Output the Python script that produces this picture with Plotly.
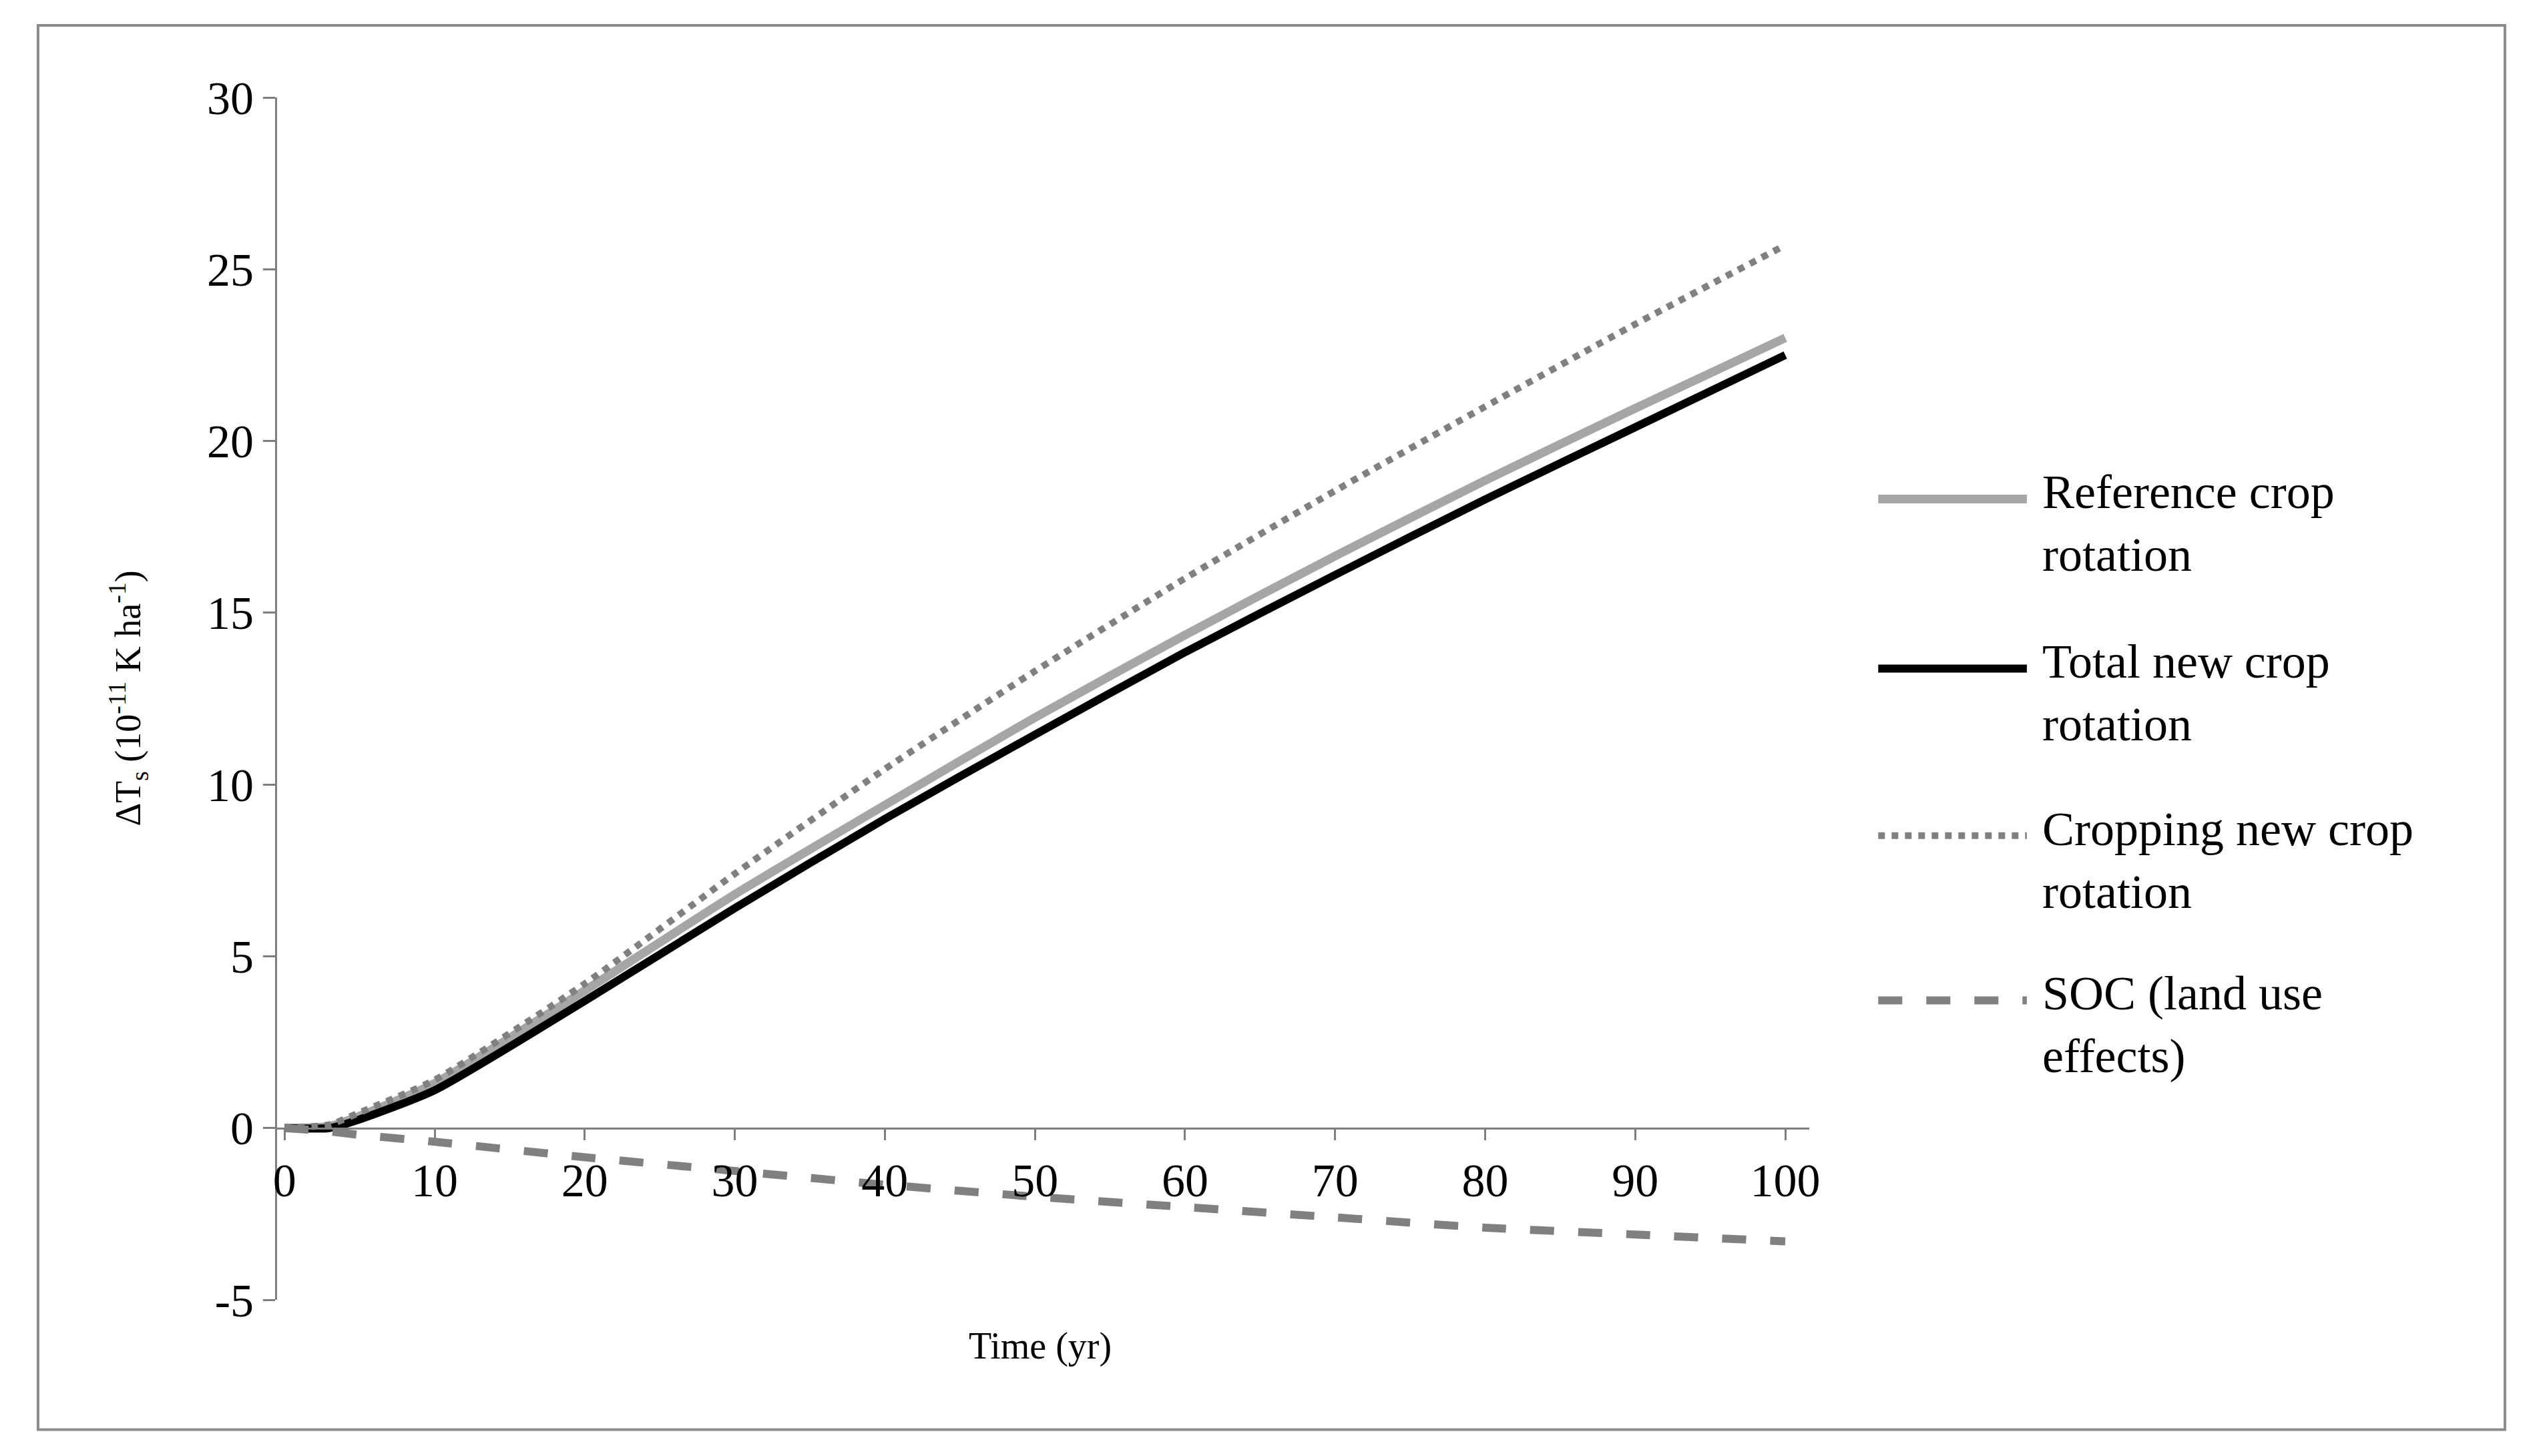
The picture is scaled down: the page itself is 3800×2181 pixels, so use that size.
import plotly.graph_objects as go

years = [0, 3, 5, 10, 20, 30, 40, 50, 60, 70, 80, 90, 100]
reference = [0, 0.05, 0.35, 1.3, 4.0, 6.8, 9.4, 11.95, 14.35, 16.65, 18.85, 20.95, 23.0]
total_new = [0, 0.0, 0.25, 1.1, 3.7, 6.4, 9.0, 11.45, 13.85, 16.1, 18.3, 20.4, 22.5]
cropping_new = [0, 0.1, 0.45, 1.4, 4.2, 7.4, 10.45, 13.3, 16.0, 18.55, 21.0, 23.4, 25.7]
soc = [0, -0.1, -0.2, -0.4, -0.85, -1.25, -1.65, -2.0, -2.3, -2.6, -2.9, -3.1, -3.3]
y_ticks = [-5, 0, 5, 10, 15, 20, 25, 30]
y_ticktext = ["-5", "0", "5", "10", "15", "20", "25", "30"]

series = [
    ("Reference crop<br>rotation", reference, dict(color="#a6a6a6", width=13)),
    ("Total new crop<br>rotation", total_new, dict(color="black", width=12)),
    ("Cropping new crop<br>rotation", cropping_new, dict(color="#808080", width=10, dash="dot")),
    ("SOC (land use<br>effects)", soc, dict(color="#808080", width=12, dash="dash")),
]

FONT = "Liberation Serif"
fig = go.Figure()
for name, vals, line in series:
    fig.add_trace(go.Scatter(x=years, y=vals, mode="lines", name=name,
                             line=dict(shape="spline", smoothing=0.6, **line)))

# manual legend on the right
legend_y = [0.666, 0.525, 0.386, 0.249]
for (name, _, line), ly in zip(series, legend_y):
    fig.add_shape(type="line", xref="paper", yref="paper", x0=1.045, x1=1.142, y0=ly, y1=ly,
                  line=dict(color=line["color"], width=line["width"], dash=line.get("dash", "solid")))
    fig.add_annotation(xref="paper", yref="paper", x=1.151, y=ly + 0.029, text=name,
                       showarrow=False, xanchor="left", yanchor="top", align="left",
                       font=dict(family=FONT, size=72, color="black"))

# outer frame
fig.add_shape(type="rect", xref="paper", yref="paper", x0=-0.156, x1=1.454, y0=-0.108, y1=1.060,
              line=dict(color="#8c8c8c", width=4))

fig.add_annotation(xref="paper", yref="paper", x=0.498, y=-0.02, text="Time (yr)", showarrow=False,
                   xanchor="center", yanchor="top", font=dict(family=FONT, size=56, color="black"))
fig.add_annotation(xref="paper", yref="paper", x=-0.115, y=0.5,
                   text="ΔT<sub>s</sub> (10<sup>-11</sup> K ha<sup>-1</sup>)", showarrow=False,
                   textangle=-90, font=dict(family=FONT, size=54, color="black"))

fig.update_layout(
    width=3800, height=2181,
    margin=dict(l=407, r=1098, t=138, b=242),
    paper_bgcolor="white", plot_bgcolor="white",
    showlegend=False,
    font=dict(family=FONT, size=70, color="black"),
    xaxis=dict(range=[-0.5, 101.6], tickvals=list(range(0, 101, 10)), anchor="free",
               position=5 / 35, showline=True, linecolor="#7f7f7f", linewidth=3,
               ticks="outside", ticklen=16, tickcolor="#7f7f7f", tickwidth=3,
               showgrid=False, zeroline=False),
    yaxis=dict(range=[-5, 30], tickvals=y_ticks, ticktext=y_ticktext, showline=True,
               linecolor="#7f7f7f", linewidth=3, ticks="outside", ticklen=18,
               tickcolor="#7f7f7f", tickwidth=3, showgrid=False, zeroline=False),
)

fig.write_html("out.html")
